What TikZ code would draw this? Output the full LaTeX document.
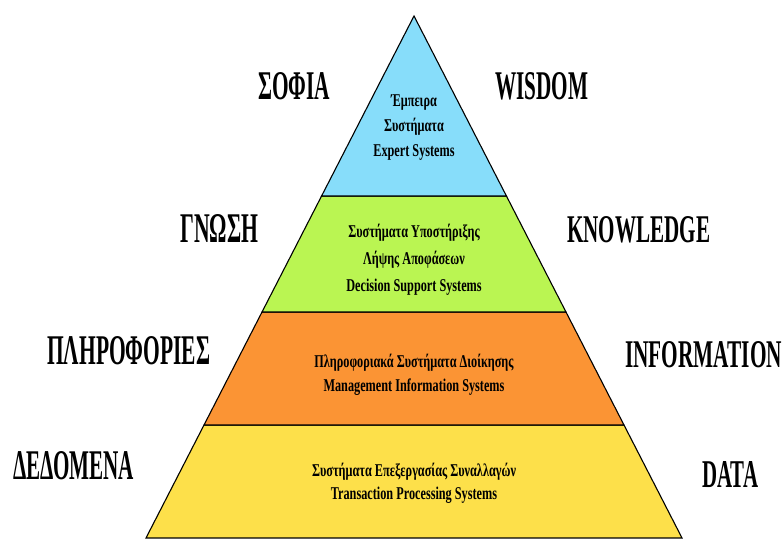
\documentclass[tikz,border=0pt]{standalone}
\usepackage{fontspec}
\setmainfont{Liberation Serif}
\newfontfamily\condfont[FakeStretch=0.68]{Liberation Serif}
\usetikzlibrary{calc}
\definecolor{tierblue}{RGB}{135,221,250}
\definecolor{tiergreen}{RGB}{186,245,82}
\definecolor{tierorange}{RGB}{251,148,52}
\definecolor{tieryellow}{RGB}{253,224,74}
% level label of fixed width and cap height
\newcommand\levelword[3]{\resizebox{#1pt}{#2pt}{\bfseries #3}}
\begin{document}
\begin{tikzpicture}[x=1pt,y=1pt,
  tier/.style={draw=black, line width=1.1pt, line join=miter},
  inner/.style={font=\condfont\bfseries\fontsize{18}{#1}\selectfont, align=center, inner sep=0pt},
  level/.style={inner sep=0pt, anchor=base west}]
\useasboundingbox (0,0) rectangle (784,540);

% pyramid outline
\coordinate (apex) at (414,524);
\coordinate (bl) at (146,2);
\coordinate (br) at (682,2);
\coordinate (l1) at ($(apex)!0.3448!(bl)$);
\coordinate (r1) at ($(apex)!0.3448!(br)$);
\coordinate (l2) at ($(apex)!0.5670!(bl)$);
\coordinate (r2) at ($(apex)!0.5670!(br)$);
\coordinate (l3) at ($(apex)!0.7835!(bl)$);
\coordinate (r3) at ($(apex)!0.7835!(br)$);

% tiers, bottom to top
\draw[tier, fill=tieryellow] (l3) -- (r3) -- (br) -- (bl) -- cycle;
\draw[tier, fill=tierorange] (l2) -- (r2) -- (r3) -- (l3) -- cycle;
\draw[tier, fill=tiergreen] (l1) -- (r1) -- (r2) -- (l2) -- cycle;
\draw[tier, fill=tierblue] (apex) -- (r1) -- (l1) -- cycle;

% tier contents
\node[inner=25] (es) at (414,412.5) {Έμπειρα\\Συστήματα\\Expert Systems};
\node[inner=27] (dss) at (414,280) {Συστήματα Υποστήριξης\\Λήψης Αποφάσεων\\Decision Support Systems};
\node[inner=24] (mis) at (414,165) {Πληροφοριακά Συστήματα Διοίκησης\\Management Information Systems};
\node[inner=23] (tps) at (414,56.5) {Συστήματα Επεξεργασίας Συναλλαγών\\Transaction Processing Systems};

% level names
\node[level] (sofia) at (258,440) {\levelword{72}{27}{ΣΟΦΙΑ}};
\node[level] (wisdom) at (495,440) {\levelword{93}{27}{WISDOM}};
\node[level] (gnosi) at (180,297) {\levelword{78}{28}{ΓΝΩΣΗ}};
\node[level] (knowledge) at (567,297) {\levelword{143}{26}{KNOWLEDGE}};
\node[level] (plirofories) at (47,175) {\levelword{163}{28}{ΠΛΗΡΟΦΟΡΙΕΣ}};
\node[level] (information) at (625,172) {\levelword{157}{26}{INFORMATION}};
\node[level] (dedomena) at (13,60) {\levelword{121}{28}{ΔΕΔΟΜΕΝΑ}};
\node[level] (data) at (702,52) {\levelword{56}{26}{DATA}};
\end{tikzpicture}
\end{document}
